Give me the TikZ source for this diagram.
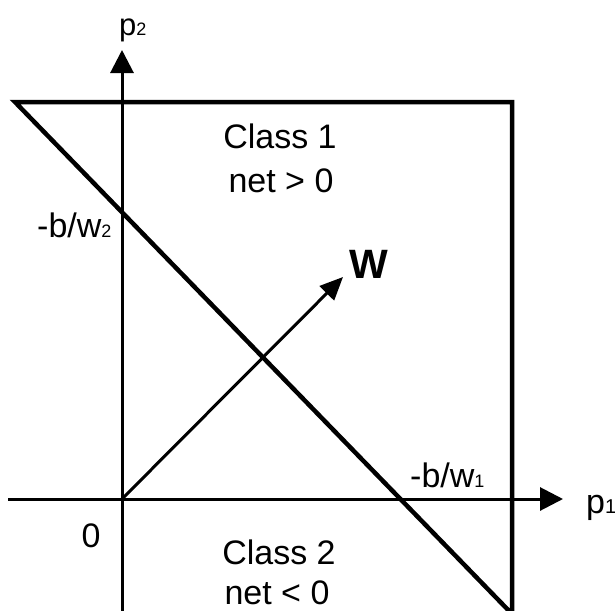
\documentclass[tikz,border=0pt]{standalone}
\usepackage{fontspec}
\setmainfont{Liberation Sans}
\usetikzlibrary{arrows.meta}
\newcommand{\sbs}[1]{{\fontsize{18}{18}\selectfont #1}}
\begin{document}
\begin{tikzpicture}[x=1pt,y=-1pt,
  lbl/.style={inner sep=0pt,font=\fontsize{34}{36}\selectfont},
  axis/.style={line width=3pt,-{Triangle[length=23pt,width=23pt]}},
  region/.style={line width=4.5pt,line join=miter},
  vec/.style={line width=3pt,-{Triangle[length=23pt,width=20pt]}}]
\useasboundingbox (0,0) rectangle (615,610);
\coordinate (O) at (122,499);
\coordinate (xs) at (8,499);
\coordinate (xe) at (563,499);
\coordinate (ys) at (122,615);
\coordinate (ye) at (122,50);
\coordinate (TL) at (15,102);
\coordinate (TR) at (512,102);
\coordinate (BR) at (512,615);
\coordinate (DE) at (513,615);
\coordinate (W) at (343,277);
\draw[region] (DE) -- (TL) -- (TR) -- (BR);
\draw[axis] (xs) -- (xe);
\draw[axis] (ys) -- (ye);
\draw[vec] (O) -- (W);
\node[lbl,anchor=base] (c1) at (280,148) {Class 1};
\node[lbl,anchor=base] (n1) at (281,192) {net > 0};
\node[lbl,anchor=base] (c2) at (279,564) {Class 2};
\node[lbl,anchor=base] (n2) at (277,604) {net < 0};
\node[lbl,anchor=base] (zero) at (91,547) {0};
\node[lbl,anchor=base west] (bw2) at (37,237) {-b/w\sbs{2}};
\node[lbl,anchor=base west] (bw1) at (410,487) {-b/w\sbs{1}};
\node[inner sep=0pt,anchor=base west,font=\fontsize{31}{32}\selectfont] (p2) at (119,36) {p\sbs{2}};
\node[lbl,anchor=base west] (p1) at (586,513) {p{\fontsize{20}{20}\selectfont 1}};
\node[inner sep=0pt,anchor=base,font=\bfseries\fontsize{41}{42}\selectfont] (wl) at (369,278) {W};
\end{tikzpicture}
\end{document}
